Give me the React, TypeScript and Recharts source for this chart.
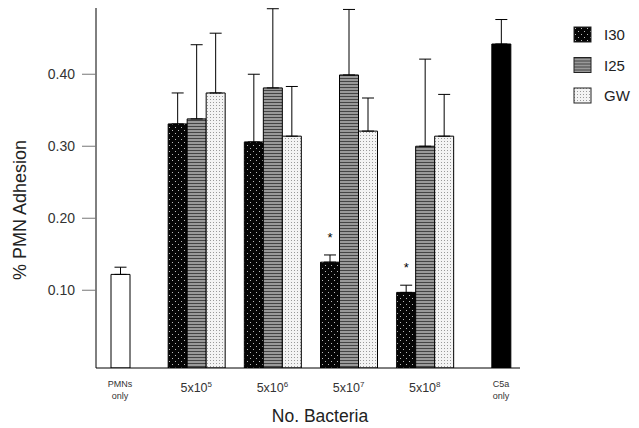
import React from 'react';
import { BarChart, Bar, XAxis, YAxis, ErrorBar, Cell, LabelList } from 'recharts';

const categories = ['PMNs only', '5x10^5', '5x10^6', '5x10^7', '5x10^8', 'C5a only'];

// the three bacterial strains
const i30 = [null, 0.331, 0.306, 0.139, 0.097, null];
const i30Err = [null, 0.043, 0.094, 0.01, 0.01, null];
const i30Sig = ['', '', '', '*', '*', ''];

const i25 = [null, 0.338, 0.381, 0.399, 0.3, null];
const i25Err = [null, 0.103, 0.11, 0.091, 0.121, null];

const gw = [null, 0.374, 0.314, 0.321, 0.314, null];
const gwErr = [null, 0.083, 0.069, 0.046, 0.058, null];

// controls (PMNs alone, C5a stimulus)
const control = [0.122, null, null, null, null, 0.442];
const controlErr = [0.01, null, null, null, null, 0.034];
const controlFill = ['#ffffff', null, null, null, null, '#000000'];

const yTicks = [0.1, 0.2, 0.3, 0.4];
const Y_MIN = -0.008;
const Y_MAX = 0.492;

const FONT = '"Liberation Sans", Arial, sans-serif';

const up = (v: number | null) => (v == null ? null : [0, v]);
// bars in the original run down to the axis floor, which sits a little below zero
const fromFloor = (v: number | null) => (v == null ? null : [Y_MIN, v]);

// controls share the centre slot with I25 so they sit in the middle of their category
const data = categories.map((name, i) => ({
  name,
  i30: fromFloor(i30[i]),
  i30Err: up(i30Err[i]),
  sig: i30Sig[i],
  mid: fromFloor(i25[i] ?? control[i]),
  midErr: up(i25Err[i] ?? controlErr[i]),
  gw: fromFloor(gw[i]),
  gwErr: up(gwErr[i]),
}));

const legendItems = [
  { key: 'I30', fill: 'url(#pI30)' },
  { key: 'I25', fill: 'url(#pI25)' },
  { key: 'GW', fill: 'url(#pGW)' },
];

function BacteriaTick({ x, y, payload }: any) {
  const v: string = payload.value;
  if (v.endsWith('only')) {
    const [a, b] = v.split(' ');
    return (
      <text x={x} y={y} textAnchor="middle" fontSize={9} fill="#333" fontFamily={FONT}>
        <tspan x={x} dy={11}>{a}</tspan>
        <tspan x={x} dy={12}>{b}</tspan>
      </text>
    );
  }
  const [base, exp] = v.split('^');
  return (
    <text x={x} y={y + 16} textAnchor="middle" fontSize={12.5} fill="#333" fontFamily={FONT}>
      <tspan>{base}</tspan>
      <tspan dy={-5} fontSize={8}>{exp}</tspan>
    </text>
  );
}

export default function App() {
  return (
    <div style={{ position: 'absolute', left: 0, top: 0, width: 639, height: 428, background: '#fff', fontFamily: FONT }}>
      <BarChart
        width={639}
        height={428}
        data={data}
        margin={{ top: 8, right: 119, bottom: 0, left: 0 }}
        barGap={0}
        barSize={19}
      >
        <defs>
          <pattern id="pI30" width="6" height="6" patternUnits="userSpaceOnUse">
            <rect width="6" height="6" fill="#050505" />
            <rect x="1" y="1" width="1" height="1" fill="#bbb" />
            <rect x="4" y="4" width="1" height="1" fill="#bbb" />
          </pattern>
          <pattern id="pI25" width="4" height="3" patternUnits="userSpaceOnUse">
            <rect width="4" height="3" fill="#999" />
            <rect width="4" height="1" fill="#444" />
          </pattern>
          <pattern id="pGW" width="3" height="3" patternUnits="userSpaceOnUse">
            <rect width="3" height="3" fill="#f4f4f4" />
            <rect width="1" height="1" fill="#9a9a9a" />
          </pattern>
        </defs>
        <XAxis
          dataKey="name"
          height={60}
          padding={{ left: -14, right: -19 }}
          axisLine={{ stroke: '#000' }}
          tickLine={false}
          tick={<BacteriaTick />}
          interval={0}
          label={({ viewBox }: any) => (
            <text x={320} y={viewBox.y + 54} textAnchor="middle" fontSize={17.5} fill="#222" fontFamily={FONT}>
              No. Bacteria
            </text>
          )}
        />
        <YAxis
          width={96}
          domain={[Y_MIN, Y_MAX]}
          ticks={yTicks}
          tickFormatter={(v: number) => v.toFixed(2)}
          allowDataOverflow
          axisLine={{ stroke: '#000' }}
          tickLine={{ stroke: '#777' }}
          tickSize={14}
          tickMargin={7}
          tick={{ fontSize: 14, fill: '#333', fontFamily: FONT }}
          label={() => (
            <text
              x={26}
              y={210}
              transform="rotate(-90 26 210)"
              textAnchor="middle"
              fontSize={18}
              fill="#222"
              fontFamily={FONT}
            >
              % PMN Adhesion
            </text>
          )}
        />
        <YAxis yAxisId="right" orientation="right" width={0} tick={false} tickLine={false} axisLine={{ stroke: '#000' }} />
        <Bar dataKey="i30" name="I30" fill="url(#pI30)" stroke="#000" isAnimationActive={false}>
          <ErrorBar dataKey="i30Err" width={6} stroke="#000" strokeWidth={1} />
          <LabelList dataKey="sig" position="top" offset={20} fontSize={13} fill="#000" />
        </Bar>
        <Bar dataKey="mid" name="I25" fill="url(#pI25)" stroke="#000" isAnimationActive={false}>
          {controlFill.map((c, i) => (
            <Cell key={i} fill={c ?? 'url(#pI25)'} />
          ))}
          <ErrorBar dataKey="midErr" width={6} stroke="#000" strokeWidth={1} />
        </Bar>
        <Bar dataKey="gw" name="GW" fill="url(#pGW)" stroke="#000" isAnimationActive={false}>
          <ErrorBar dataKey="gwErr" width={6} stroke="#000" strokeWidth={1} />
        </Bar>
      </BarChart>
      <svg style={{ position: 'absolute', left: 560, top: 20 }} width={79} height={100}>
        {legendItems.map((it, i) => (
          <g key={it.key} transform={`translate(14 ${7 + i * 30.5})`}>
            <rect width={17} height={15} fill={it.fill} stroke="#222" strokeWidth={1} />
            <text x={30} y={13} fontSize={15} fill="#222" fontFamily={FONT}>
              {it.key}
            </text>
          </g>
        ))}
      </svg>
    </div>
  );
}
